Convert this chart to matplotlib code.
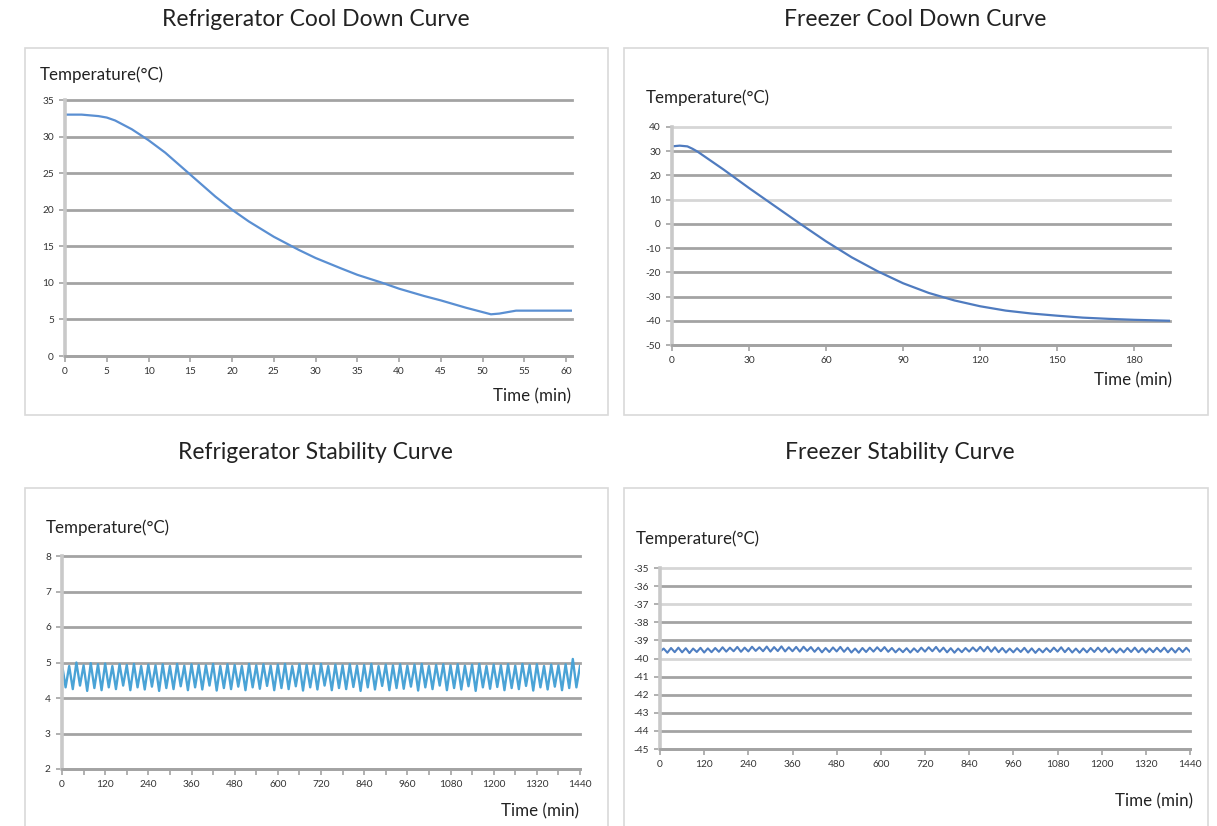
import matplotlib
matplotlib.use("Agg")
import matplotlib.pyplot as plt
from matplotlib.patches import Rectangle
import numpy as np

plt.rcParams['font.family'] = ['Lato', 'DejaVu Sans']
plt.rcParams['axes.unicode_minus'] = False

W, H = 1217, 826

# ---- data ----
fridge_cd_t = [0, 2, 4, 5, 6, 8, 10, 12, 14, 15, 18, 20, 22, 25, 28, 30, 33, 35,
               38, 40, 43, 45, 48, 50, 51, 52, 53, 54, 56, 58, 61]
fridge_cd_temp = [33.0, 33.0, 32.8, 32.6, 32.2, 31.0, 29.5, 27.8, 25.8, 24.8, 21.8,
                  20.0, 18.4, 16.3, 14.5, 13.4, 12.0, 11.1, 10.0, 9.2, 8.2, 7.6,
                  6.6, 6.0, 5.7, 5.8, 6.0, 6.2, 6.2, 6.2, 6.2]

freezer_cd_t = [0, 3, 6, 8, 10, 20, 30, 40, 50, 60, 70, 80, 90, 100, 110, 120,
                130, 140, 150, 160, 170, 180, 194]
freezer_cd_temp = [32.0, 32.3, 32.0, 31.0, 29.8, 22.5, 14.8, 7.4, 0.0, -7.2, -13.8,
                   -19.5, -24.5, -28.5, -31.6, -34.0, -35.8, -37.0, -37.9, -38.7,
                   -39.2, -39.6, -40.0]

stab_t = np.arange(0, 1441, 10)

fridge_stab = [
    4.95, 4.30, 4.90, 4.25, 5.00, 4.35, 4.92, 4.20, 4.98, 4.28, 4.95, 4.22,
    4.97, 4.30, 4.90, 4.25, 4.95, 4.35, 4.93, 4.22, 4.96, 4.30, 4.90, 4.24,
    4.94, 4.32, 4.92, 4.20, 4.95, 4.28, 4.90, 4.25, 4.96, 4.33, 4.91, 4.22,
    4.95, 4.30, 4.93, 4.24, 4.92, 4.35, 4.96, 4.21, 4.90, 4.28, 4.95, 4.25,
    4.93, 4.32, 4.90, 4.22, 4.96, 4.30, 4.92, 4.26, 4.95, 4.34, 4.91, 4.22,
    4.94, 4.28, 4.96, 4.25, 4.90, 4.33, 4.95, 4.21, 4.93, 4.30, 4.92, 4.24,
    4.96, 4.35, 4.90, 4.22, 4.94, 4.28, 4.92, 4.25, 4.95, 4.31, 4.91, 4.20,
    4.93, 4.30, 4.96, 4.24, 4.90, 4.34, 4.94, 4.22, 4.92, 4.28, 4.95, 4.26,
    4.91, 4.32, 4.94, 4.21, 4.96, 4.30, 4.90, 4.25, 4.93, 4.35, 4.95, 4.22,
    4.92, 4.28, 4.95, 4.24, 4.91, 4.33, 4.94, 4.20, 4.96, 4.30, 4.90, 4.26,
    4.94, 4.31, 4.92, 4.22, 4.95, 4.28, 4.91, 4.25, 4.96, 4.34, 4.93, 4.21,
    4.95, 4.30, 4.90, 4.24, 4.94, 4.32, 4.92, 4.22, 4.95, 4.28, 5.10, 4.30,
    4.90]

freezer_stab = [
    -39.62, -39.45, -39.68, -39.42, -39.65, -39.40, -39.66, -39.43, -39.70, -39.45, -39.64, -39.41,
    -39.67, -39.44, -39.65, -39.42, -39.63, -39.38, -39.62, -39.40, -39.60, -39.36, -39.63, -39.40,
    -39.61, -39.35, -39.58, -39.38, -39.60, -39.34, -39.62, -39.37, -39.59, -39.33, -39.61, -39.38,
    -39.60, -39.36, -39.62, -39.35, -39.58, -39.37, -39.63, -39.40, -39.66, -39.42, -39.64, -39.39,
    -39.61, -39.36, -39.63, -39.40, -39.67, -39.45, -39.68, -39.42, -39.64, -39.40, -39.62, -39.38,
    -39.60, -39.37, -39.63, -39.42, -39.66, -39.45, -39.65, -39.43, -39.67, -39.44, -39.64, -39.40,
    -39.62, -39.38, -39.60, -39.36, -39.63, -39.40, -39.66, -39.43, -39.68, -39.45, -39.65, -39.42,
    -39.62, -39.39, -39.60, -39.36, -39.61, -39.35, -39.63, -39.38, -39.65, -39.42, -39.67, -39.45,
    -39.66, -39.43, -39.64, -39.41, -39.67, -39.44, -39.69, -39.46, -39.66, -39.43, -39.64, -39.40,
    -39.62, -39.38, -39.65, -39.42, -39.67, -39.45, -39.68, -39.44, -39.66, -39.42, -39.64, -39.40,
    -39.63, -39.41, -39.66, -39.44, -39.68, -39.45, -39.66, -39.42, -39.64, -39.40, -39.65, -39.43,
    -39.67, -39.44, -39.65, -39.41, -39.63, -39.40, -39.66, -39.43, -39.67, -39.42, -39.64, -39.41,
    -39.62]

titles = ['Refrigerator Cool Down Curve', 'Freezer Cool Down Curve',
          'Refrigerator Stability Curve', 'Freezer Stability Curve']


def fx(x):
    return x / W


def fy(y):
    return 1 - y / H


def make_axes(fig, left, right, top, bottom):
    return fig.add_axes([fx(left), fy(bottom), fx(right - left), (bottom - top) / H])


def style(ax, light=()):
    for s in ['top', 'right']:
        ax.spines[s].set_visible(False)
    ax.spines['left'].set_color('#c9c9c9')
    ax.spines['left'].set_linewidth(2.6)
    ax.spines['bottom'].set_color('#a3a3a3')
    ax.spines['bottom'].set_linewidth(2.0)
    ax.grid(axis='y', color='#a3a3a3', linewidth=2.0)
    for i, gl in enumerate(ax.get_ygridlines()):
        gl.set_clip_on(False)
        if i in light:
            gl.set_color('#d6d6d6')
    ax.tick_params(axis='both', labelsize=7.3, colors='#333333', length=4,
                   width=1.2, pad=4)
    ax.tick_params(axis='both', color='#a3a3a3')
    ax.set_axisbelow(True)


fig = plt.figure(figsize=(W / 100, H / 100), dpi=100)

# panel boxes
for (x0, y0, x1, y1) in [(25, 48, 608, 415), (624, 48, 1208, 415),
                         (25, 488, 608, 840), (624, 488, 1208, 840)]:
    fig.patches.append(Rectangle((fx(x0), fy(y1)), fx(x1 - x0), (y1 - y0) / H,
                                 transform=fig.transFigure, fill=False,
                                 edgecolor='#d9d9d9', linewidth=1.2))

# titles
for (cx, cy), t in zip([(316, 20), (915, 20), (315, 453), (900, 453)], titles):
    fig.text(fx(cx), fy(cy), t, ha='center', va='center', fontsize=16.5, color='#222222')

lab = dict(fontsize=12.2, color='#222222', va='center')

# ---- Refrigerator cool down ----
ax1 = make_axes(fig, 65, 572, 100, 356)
ax1.plot(fridge_cd_t, fridge_cd_temp, color='#5a8fd2', linewidth=1.6)
ax1.set_xlim(0, 60.7)
ax1.set_ylim(0, 35)
ax1.set_xticks(range(0, 61, 5))
ax1.set_yticks(range(0, 36, 5))
style(ax1)
fig.text(fx(40), fy(75), 'Temperature(°C)', ha='left', **lab)
fig.text(fx(571), fy(396), 'Time (min)', ha='right', **lab)

# ---- Freezer cool down ----
ax2 = make_axes(fig, 672, 1170, 127, 345)
ax2.plot(freezer_cd_t, freezer_cd_temp, color='#4f7bbf', linewidth=1.6)
ax2.set_xlim(0, 194)
ax2.set_ylim(-50, 40)
ax2.set_xticks(range(0, 181, 30))
ax2.set_yticks(range(-50, 41, 10))
style(ax2, light=(6, 9))
fig.text(fx(646), fy(98), 'Temperature(°C)', ha='left', **lab)
fig.text(fx(1172), fy(380), 'Time (min)', ha='right', **lab)

# ---- Refrigerator stability ----
ax3 = make_axes(fig, 62, 580, 556, 769)
ax3.plot(stab_t, fridge_stab, color='#4aa3d6', linewidth=1.7)
ax3.set_xlim(0, 1440)
ax3.set_ylim(2, 8)
ax3.set_xticks(range(0, 1441, 120))
ax3.set_xticks(range(0, 1441, 60), minor=True)
ax3.set_yticks(range(2, 9))
style(ax3)
ax3.tick_params(axis='x', which='minor', length=4, width=1.2, color='#a3a3a3')
fig.text(fx(46), fy(528), 'Temperature(°C)', ha='left', **lab)
fig.text(fx(579), fy(811), 'Time (min)', ha='right', **lab)

# ---- Freezer stability ----
ax4 = make_axes(fig, 660, 1190, 568, 749)
ax4.plot(stab_t, freezer_stab, color='#4f7fc2', linewidth=1.5)
ax4.set_xlim(0, 1440)
ax4.set_ylim(-45, -35)
ax4.set_xticks(range(0, 1441, 120))
ax4.set_yticks(range(-45, -34))
style(ax4, light=(5, 8, 10))
fig.text(fx(636), fy(539), 'Temperature(°C)', ha='left', **lab)
fig.text(fx(1193), fy(801), 'Time (min)', ha='right', **lab)

fig.savefig('out.png', dpi=100, facecolor='white')
